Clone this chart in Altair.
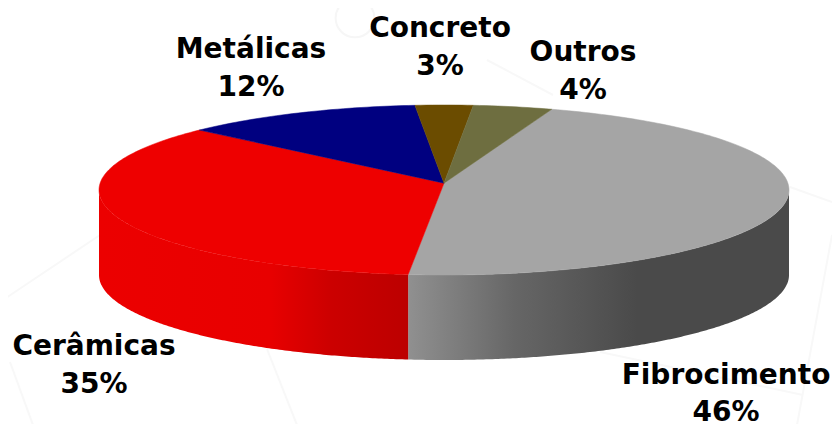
import math
import altair as alt
import pandas as pd

# Chart values
categories = ["Fibrocimento", "Cerâmicas", "Metálicas", "Concreto", "Outros"]
percent_labels = [46, 35, 12, 3, 4]
# Sweep of each slice as drawn (the perspective view stretches them a little)
drawn_shares = [46.6, 35.8, 11.2, 2.7, 3.7]

top_colors = ["#A5A5A5", "#EE0000", "#000080", "#6B4C00", "#6E6E40"]

# Layout
W, H = 824, 416
CX, CY, RX, RY = 436, 182, 345, 85
START_DEG = 18.2
APEX_V = 0.08
label_pos = {
    "Fibrocimento": (718, 376, 413),
    "Cerâmicas": (86, 347, 385),
    "Metálicas": (243, 50, 88),
    "Concreto": (432, 29, 67),
    "Outros": (575, 53, 91),
}
# Very faint watermark strokes behind the pie (x, y, x2, y2 in pixels)
watermark = [
    (-8, 294, 92, 227),
    (259, 341, 289, 417),
    (2, 354, 25, 417),
    (592, 344, 795, 387),
    (824, 227, 789, 417),
    (479, 52, 545, 87),
    (782, 179, 824, 194),
]

x_scale = alt.Scale(domain=[-CX / RX, (W - CX) / RX], nice=False, zero=False)
y_scale = alt.Scale(domain=[(CY - H) / RY, CY / RY], nice=False, zero=False)
x_enc = alt.X("u:Q", scale=x_scale, axis=None)
y_enc = alt.Y("v:Q", scale=y_scale, axis=None)

# Slice angle boundaries, clockwise from the top of the ellipse
bounds = [START_DEG]
for s in drawn_shares:
    bounds.append(bounds[-1] + s * 3.6)


def rim(a0, a1, step=1.0):
    n = max(2, int(round((a1 - a0) / step)))
    return [a0 + (a1 - a0) * i / n for i in range(n + 1)]


def wall(a0, a1, stops):
    rows = []
    for a in rim(a0, a1, 0.5):
        r = math.radians(a)
        rows.append({"u": math.sin(r), "v": math.cos(r), "v2": math.cos(r) - 1})
    return (
        alt.Chart(pd.DataFrame(rows))
        .mark_area(
            color=alt.Gradient(
                gradient="linear",
                stops=[alt.GradientStop(offset=o, color=c) for o, c in stops],
                x1=0, x2=1, y1=0, y2=0,
            )
        )
        .encode(x=x_enc, y=y_enc, y2="v2:Q")
    )


layers = []
for x0, y0, x1, y1 in watermark:
    layers.append(
        alt.Chart(pd.DataFrame({"a": [0]}))
        .mark_rule(color="#F8F8F8", strokeWidth=2)
        .encode(x=alt.value(x0), y=alt.value(y0), x2=alt.value(x1), y2=alt.value(y1))
    )
layers.append(
    alt.Chart(pd.DataFrame({"a": [0]}))
    .mark_point(shape="circle", size=1500, filled=False, color="#F6F6F6", strokeWidth=2, opacity=1)
    .encode(x=alt.value(347), y=alt.value(10))
)

layers += [
    wall(90, bounds[1], [(0, "#909090"), (0.28, "#666666"), (0.60, "#4A4A4A"), (1, "#4A4A4A")]),
    wall(bounds[1], 270, [(0, "#EC0000"), (0.55, "#E80000"), (0.75, "#CC0000"), (1, "#BC0000")]),
]

for i, c in enumerate(top_colors):
    pts = [(0.0, APEX_V)]
    for a in rim(bounds[i], bounds[i + 1]):
        r = math.radians(a)
        pts.append((math.sin(r), math.cos(r)))
    pts.append((0.0, APEX_V))
    df = pd.DataFrame([{"u": u, "v": v, "k": k} for k, (u, v) in enumerate(pts)])
    layers.append(
        alt.Chart(df)
        .mark_line(fill=c, stroke=c, strokeWidth=0.5, interpolate="linear")
        .encode(x=x_enc, y=y_enc, order="k:Q")
    )

for name, pct in zip(categories, percent_labels):
    px, y1, y2 = label_pos[name]
    for txt, py in ((name, y1), (f"{pct}%", y2)):
        layers.append(
            alt.Chart(pd.DataFrame({"t": [txt]}))
            .mark_text(font="DejaVu Sans", fontWeight="bold", fontSize=28, color="#000000",
                       align="center", baseline="alphabetic")
            .encode(text="t:N", x=alt.value(px), y=alt.value(py))
        )

chart = (
    alt.layer(*layers)
    .properties(width=W, height=H, padding=0, autosize=alt.AutoSizeParams(type="none"), background="#FFFFFF")
    .configure_view(stroke=None)
)
chart.save("out.html", embed_options={"renderer": "svg", "actions": False})
